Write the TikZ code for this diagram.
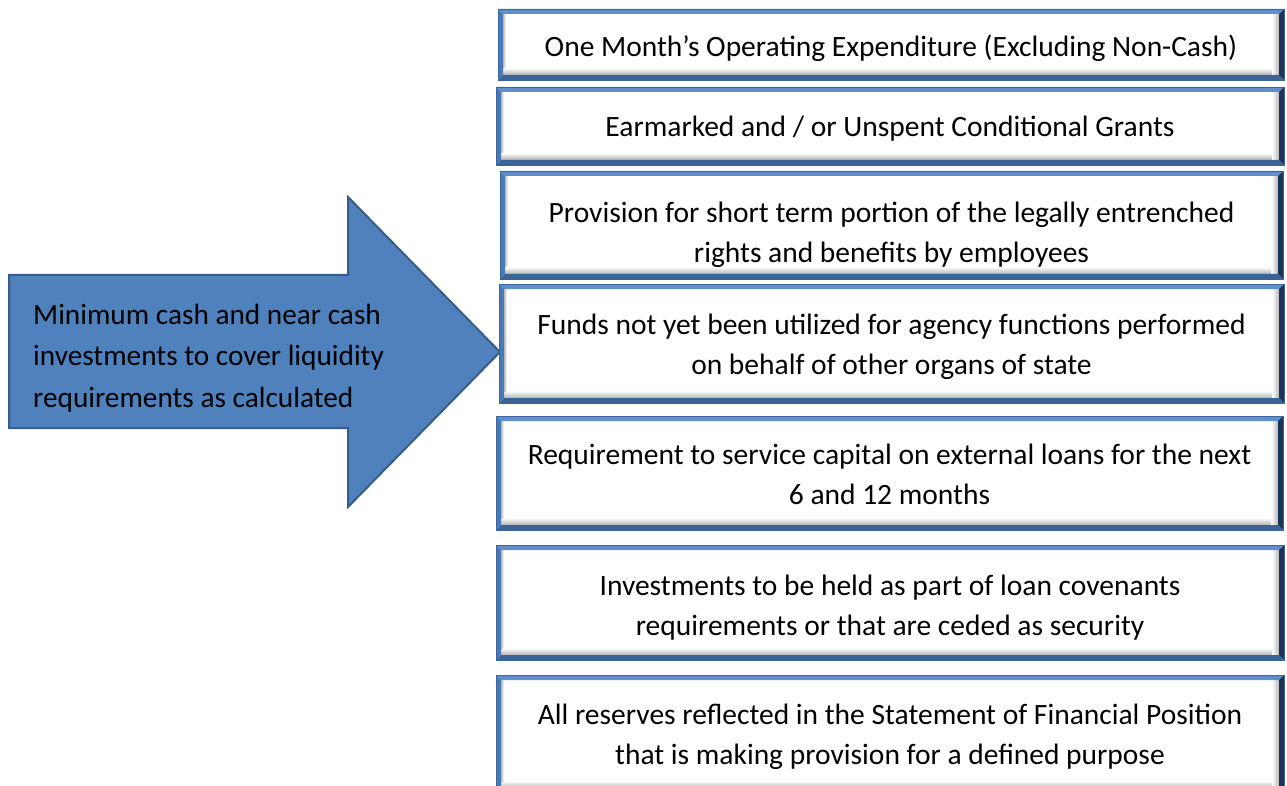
\documentclass[tikz,border=0pt]{standalone}
\usepackage{fontspec}
\setmainfont{Carlito}
\usetikzlibrary{calc}
\definecolor{arrowfill}{HTML}{4F81BD}
\definecolor{arrowline}{HTML}{385D8A}
\definecolor{bvtop}{HTML}{5E8FCC}
\definecolor{bvleft}{HTML}{4A7AB4}
\definecolor{bvright}{HTML}{1C3556}
\definecolor{bvbottom}{HTML}{3A6495}
\definecolor{bvout}{HTML}{3B64A0}
\newcommand{\boxfont}{\fontsize{29.5pt}{40pt}\selectfont}
\newcommand{\arrfont}{\fontsize{29.3pt}{41.5pt}\selectfont}
\tikzset{
  bevelbox/.style={rectangle, inner sep=0pt,
    fill=white, draw=bvout, line width=0.8pt,
    path picture={
      \path (path picture bounding box.north west) coordinate (pnw)
            (path picture bounding box.north east) coordinate (pne)
            (path picture bounding box.south west) coordinate (psw)
            (path picture bounding box.south east) coordinate (pse);
      \shade[top color=white, bottom color=black!30]
        ([shift={(5pt,12pt)}]psw) rectangle ([shift={(-5pt,5pt)}]pse);
      \shade[left color=white, right color=black!28]
        ([shift={(-12pt,-5pt)}]pne) rectangle ([shift={(-5pt,5pt)}]pse);
      \shade[left color=black!25, right color=white]
        ([shift={(5pt,-5pt)}]pnw) rectangle ([shift={(8pt,12pt)}]psw);
      \fill[bvtop] (pnw) -- (pne) -- ([shift={(-5pt,-5pt)}]pne) -- ([shift={(5pt,-5pt)}]pnw) -- cycle;
      \fill[bvleft] (pnw) -- (psw) -- ([shift={(5pt,5pt)}]psw) -- ([shift={(5pt,-5pt)}]pnw) -- cycle;
      \fill[bvbottom] (psw) -- (pse) -- ([shift={(-5pt,5pt)}]pse) -- ([shift={(5pt,5pt)}]psw) -- cycle;
      \fill[bvright] (pne) -- (pse) -- ([shift={(-5pt,5pt)}]pse) -- ([shift={(-5pt,-5pt)}]pne) -- cycle;
    }},
  boxtext/.style={align=center, font=\boxfont, inner sep=0pt, text=black},
  arrowtext/.style={align=left, font=\arrfont, inner sep=0pt, anchor=west, text=black}
}
\begin{document}
\begin{tikzpicture}[x=1pt, y=-1pt]
\useasboundingbox (0,0) rectangle (1287,786);
\clip (0,0) rectangle (1287,786);
\fill[white] (0,0) rectangle (1287,786);
% big arrow
\draw[fill=arrowfill, draw=arrowline, line width=2pt, line join=miter]
  (9,275) -- (348,275) -- (348,197) -- (500,352) -- (348,507) -- (348,428) -- (9,428) -- cycle;
\node[arrowtext] (arr) at (33,357.7) {Minimum cash and near cash\\investments to cover liquidity\\requirements as calculated};
% boxes
\node[bevelbox, minimum width=786pt, minimum height=71pt,
  label={[boxtext, name=t1, yshift=-4pt]center:{One Month’s Operating Expenditure (Excluding Non-Cash)}}] (b1) at (891,44.5) {};
\node[bevelbox, minimum width=788pt, minimum height=78pt,
  label={[boxtext, name=t2, yshift=-3pt]center:{Earmarked and / or Unspent Conditional Grants}}] (b2) at (890,126) {};
\node[bevelbox, minimum width=783pt, minimum height=108pt,
  label={[boxtext, name=t3, yshift=-9.5pt]center:{Provision for short term portion of the legally entrenched\\rights and benefits by employees}}] (b3) at (891.5,225) {};
\node[bevelbox, minimum width=785pt, minimum height=119pt,
  label={[boxtext, name=t4, yshift=-3.5pt]center:{Funds not yet been utilized for agency functions performed\\on behalf of other organs of state}}] (b4) at (891.5,343.5) {};
\node[bevelbox, minimum width=787pt, minimum height=114pt,
  label={[boxtext, name=t5, yshift=-1.5pt]center:{Requirement to service capital on external loans for the next\\6 and 12 months}}] (b5) at (889.5,473) {};
\node[bevelbox, minimum width=788pt, minimum height=115pt,
  label={[boxtext, name=t6, yshift=-5pt]center:{Investments to be held as part of loan covenants\\requirements or that are ceded as security}}] (b6) at (890,602.5) {};
\node[bevelbox, minimum width=788pt, minimum height=118pt,
  label={[boxtext, name=t7, yshift=-3pt]center:{All reserves reflected in the Statement of Financial Position\\that is making provision for a defined purpose}}] (b7) at (890,734) {};
\end{tikzpicture}
\end{document}
